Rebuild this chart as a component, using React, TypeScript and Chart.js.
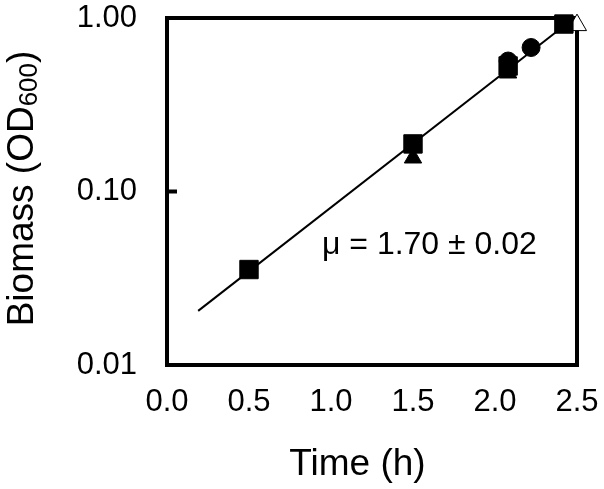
import React, { useEffect, useRef } from 'react';
import { Chart, registerables } from 'chart.js';

Chart.register(...registerables);

// ---- data ----
const xTickValues = [0, 0.5, 1, 1.5, 2, 2.5];
const yTickValues = [0.01, 0.1, 1];
const squareTimes = [0.5, 1.5, 2.08, 2.42];
const squareOD = [0.0355, 0.188, 0.529, 0.923];
const triangleTimes = [1.5, 2.08, 2.5];
const triangleOD = [0.156, 0.482, 0.91];
const circleTimes = [2.08, 2.22];
const circleOD = [0.565, 0.676];
const fitTimes = [0.19, 2.42];
const fitOD = [0.0205, 0.9];
const annotationText = 'μ = 1.70 ± 0.02';
const annotationTime = 0.945;
const annotationOD = 0.049;
const xTitle = 'Time (h)';
const yTitleMain = 'Biomass (OD';
const yTitleSub = '600';
const yTitleEnd = ')';

const FONT = '"Liberation Sans", Arial, sans-serif';

const pts = (xs: number[], ys: number[]) => xs.map((x, i) => ({ x, y: ys[i] }));

const framePlugin = {
  id: 'frame',
  beforeDatasetsDraw(chart: any) {
    const { ctx, chartArea: a, scales } = chart;
    ctx.save();
    ctx.strokeStyle = '#000';
    ctx.lineWidth = 4;
    ctx.strokeRect(a.left, a.top, a.right - a.left, a.bottom - a.top);
    const y = scales.y;
    yTickValues.forEach((v) => {
      const py = y.getPixelForValue(v);
      ctx.beginPath();
      ctx.moveTo(a.left, py);
      ctx.lineTo(a.left + 10, py);
      ctx.stroke();
    });
    ctx.fillStyle = '#000';
    ctx.font = `32px ${FONT}`;
    ctx.textAlign = 'left';
    ctx.textBaseline = 'middle';
    ctx.fillText(annotationText, scales.x.getPixelForValue(annotationTime), y.getPixelForValue(annotationOD));
    ctx.restore();
  },
  afterDraw(chart: any) {
    const { ctx, chartArea: a } = chart;
    ctx.save();
    ctx.fillStyle = '#000';
    ctx.font = `37px ${FONT}`;
    ctx.textAlign = 'center';
    ctx.textBaseline = 'alphabetic';
    ctx.fillText(xTitle, (a.left + a.right) / 2 - 14.5, chart.height - 14);
    ctx.font = `37px ${FONT}`;
    const wMain = ctx.measureText(yTitleMain).width;
    const wEnd = ctx.measureText(yTitleEnd).width;
    ctx.font = `26px ${FONT}`;
    const wSub = ctx.measureText(yTitleSub).width;
    const total = wMain + wSub + wEnd;
    const cy = (a.top + a.bottom) / 2 - 3;
    ctx.translate(33, cy + total / 2);
    ctx.rotate(-Math.PI / 2);
    ctx.textAlign = 'left';
    ctx.font = `37px ${FONT}`;
    ctx.fillText(yTitleMain, 0, 0);
    ctx.font = `26px ${FONT}`;
    ctx.fillText(yTitleSub, wMain, 4);
    ctx.font = `37px ${FONT}`;
    ctx.fillText(yTitleEnd, wMain + wSub, 0);
    ctx.restore();
  },
};

export default function App() {
  const ref = useRef<HTMLCanvasElement | null>(null);
  useEffect(() => {
    if (!ref.current) return;
    const chart = new Chart(ref.current, {
      type: 'scatter',
      data: {
        datasets: [
          {
            label: 'fit',
            data: pts(fitTimes, fitOD),
            showLine: true,
            borderColor: '#000',
            borderWidth: 2,
            pointRadius: 0,
            order: 5,
          } as any,
          {
            label: 'squares',
            data: pts(squareTimes, squareOD),
            pointStyle: 'rect',
            pointRadius: 13,
            pointBackgroundColor: '#000',
            pointBorderColor: '#000',
            pointBorderWidth: 1,
            order: 1,
          },
          {
            label: 'circles',
            data: pts(circleTimes, circleOD),
            pointStyle: 'circle',
            pointRadius: 9,
            pointBackgroundColor: '#000',
            pointBorderColor: '#000',
            pointBorderWidth: 1,
            order: 2,
          },
          {
            label: 'triangles',
            data: pts(triangleTimes, triangleOD),
            pointStyle: 'triangle',
            pointRadius: [10, 10, 11],
            pointBackgroundColor: ['#000', '#000', '#fff'],
            pointBorderColor: '#000',
            pointBorderWidth: 1,
            order: 3,
          } as any,
        ],
      },
      options: {
        animation: false,
        responsive: false,
        clip: false as any,
        layout: { padding: { top: 18, right: 27, left: 0, bottom: 0 } },
        plugins: { legend: { display: false }, tooltip: { enabled: false } },
        scales: {
          x: {
            type: 'linear',
            min: 0,
            max: 2.5,
            afterBuildTicks: (s: any) => {
              s.ticks = xTickValues.map((v) => ({ value: v }));
            },
            afterFit: (s: any) => {
              s.height = 124;
              s.paddingLeft = 0;
              s.paddingRight = 0;
            },
            grid: { display: false, drawTicks: false },
            border: { display: false },
            ticks: {
              color: '#000',
              padding: 19,
              maxRotation: 0,
              autoSkip: false,
              font: { family: FONT, size: 31 },
              callback: (v: any) => Number(v).toFixed(1),
            },
          },
          y: {
            type: 'logarithmic',
            min: 0.01,
            max: 1,
            afterBuildTicks: (s: any) => {
              s.ticks = yTickValues.map((v) => ({ value: v }));
            },
            afterFit: (s: any) => {
              s.width = 167;
              s.paddingTop = 0;
              s.paddingBottom = 0;
            },
            grid: { display: false, drawTicks: false },
            border: { display: false },
            ticks: {
              color: '#000',
              padding: 30,
              autoSkip: false,
              font: { family: FONT, size: 31 },
              callback: (v: any) => Number(v).toFixed(2),
            },
          },
        },
      },
      plugins: [framePlugin],
    });
    return () => chart.destroy();
  }, []);
  return (
    <div style={{ position: 'fixed', left: 0, top: 0, width: 604, height: 489, background: '#fff' }}>
      <canvas ref={ref} width={604} height={489} />
    </div>
  );
}
